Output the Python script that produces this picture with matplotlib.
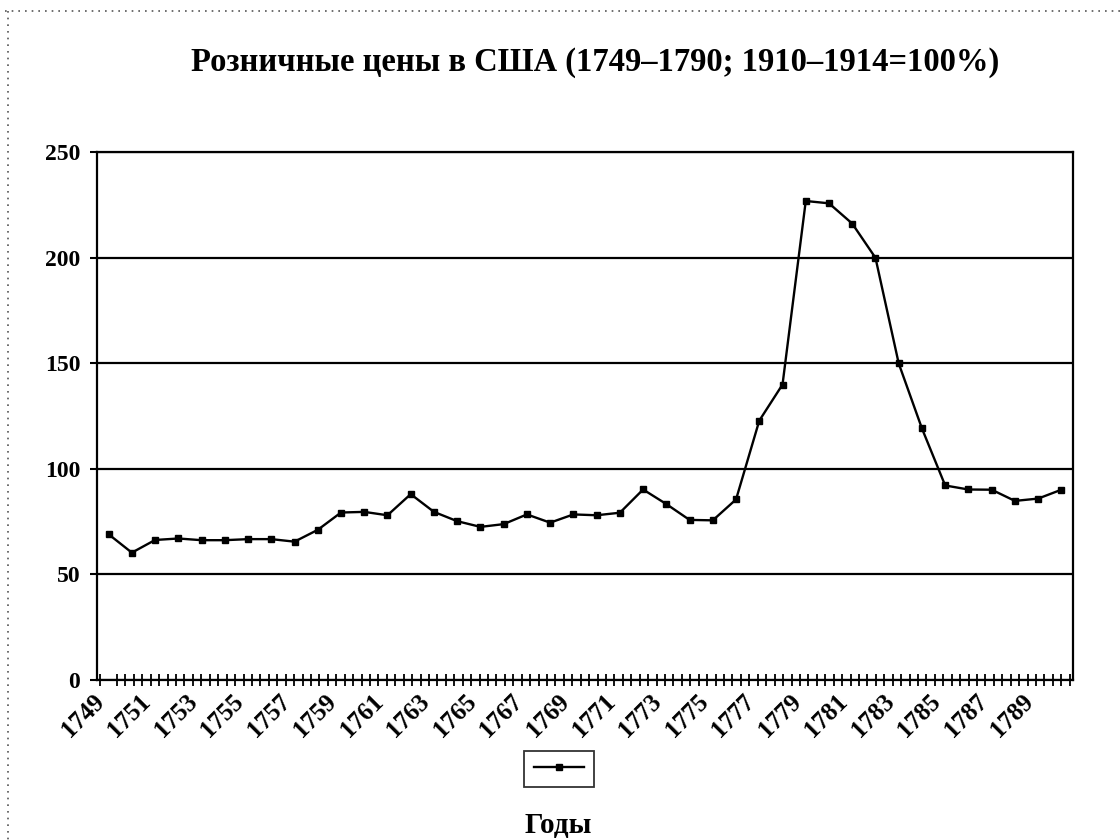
import matplotlib
matplotlib.use("Agg")
import matplotlib.pyplot as plt
from matplotlib.ticker import MultipleLocator, FixedLocator
from matplotlib.lines import Line2D

years = list(range(1749, 1791))
prices = [69.0, 60.3, 66.3, 67.0, 66.2, 66.2, 66.7, 66.7, 65.5, 71.1,
          79.3, 79.6, 78.0, 88.0, 79.6, 75.2, 72.5, 73.8, 78.4, 74.5,
          78.4, 78.0, 79.2, 90.2, 83.3, 75.8, 75.6, 85.5, 122.8, 139.9,
          226.8, 225.7, 216.1, 199.9, 149.9, 119.1, 92.1, 90.2, 90.1, 84.8,
          85.9, 90.1]
tick_labels = [str(y) for y in years[::2]]
yticks = [0, 50, 100, 150, 200, 250]

title = "Розничные цены в США (1749–1790; 1910–1914=100%)"
xlabel = "Годы"

plt.rcParams['font.family'] = ['Liberation Serif', 'DejaVu Serif']

W, H = 1120, 840
fig = plt.figure(figsize=(W / 100, H / 100), dpi=100)
ax = fig.add_axes([97 / W, 1 - 680 / H, (1073 - 97) / W, (680 - 152) / H])

x = list(range(len(years)))
line, = ax.plot(x, prices, color='black', lw=1.7, marker='s', ms=4.8,
                markerfacecolor='black', markeredgecolor='black')

ax.set_ylim(0, 250)
ax.set_xlim(-0.5, len(years) - 0.5)
ax.set_yticks(yticks)
ax.set_yticklabels([str(v) for v in yticks], fontsize=17, fontweight='bold')
ax.yaxis.grid(True, color='black', lw=1.6)
ax.set_axisbelow(True)
ax.tick_params(axis='y', direction='out', length=5, width=1.5, pad=7)

ax.xaxis.set_major_locator(FixedLocator(x[::2]))
ax.set_xticklabels(tick_labels, rotation=45, ha='right', rotation_mode='default',
                   fontsize=18, fontweight='bold')
ax.tick_params(axis='x', which='major', length=0, pad=7)
ax.xaxis.set_minor_locator(MultipleLocator(0.3628))
ax.tick_params(axis='x', which='minor', direction='inout', length=8, width=1.3)

for s in ax.spines.values():
    s.set_linewidth(1.6)
    s.set_color('black')

fig.text(595 / W, 1 - 62 / H, title, ha='center', va='center',
         fontsize=23.5, fontweight='bold')
fig.text(558 / W, 1 - 826 / H, xlabel, ha='center', va='center',
         fontsize=21, fontweight='bold')

leg = fig.legend([line], [''], loc='center', bbox_to_anchor=(559 / W, 1 - 769 / H),
                 frameon=True, fancybox=False, edgecolor='black', fontsize=12,
                 handlelength=3.0, handletextpad=0.0, borderpad=0.6, borderaxespad=0)
leg.get_frame().set_linewidth(1.3)

fig.add_artist(Line2D([5 / W, 1], [1 - 11 / H, 1 - 11 / H], transform=fig.transFigure,
                      color='#555555', lw=1.2, ls=(0, (1, 3))))
fig.add_artist(Line2D([8 / W, 8 / W], [1 - 11 / H, 0], transform=fig.transFigure,
                      color='#555555', lw=1.2, ls=(0, (1, 3))))

fig.savefig("out.png", dpi=100)
